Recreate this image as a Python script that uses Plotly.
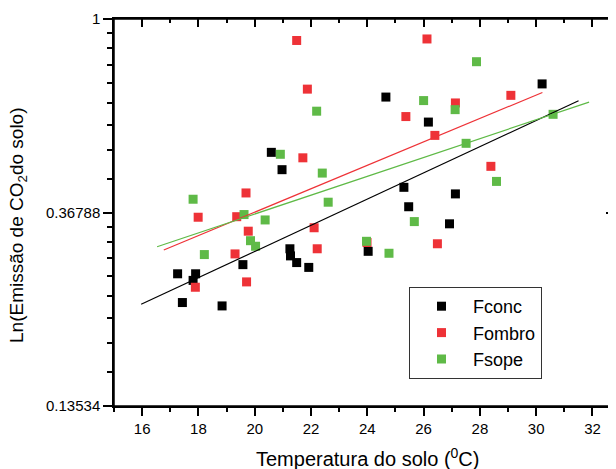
import numpy as np
import plotly.graph_objects as go

# ---- data ----
series_names = ["Fconc", "Fombro", "Fsope"]

fconc_x = [20.59, 20.97, 21.25, 21.27, 21.49, 21.92, 19.58, 17.26, 17.90, 17.81,
           17.43, 18.84, 30.21, 24.66, 26.17, 25.30, 27.13, 25.47, 26.92, 24.03]
fconc_y = [0.502, 0.459, 0.305, 0.294, 0.284, 0.277, 0.281, 0.268, 0.268, 0.259,
           0.231, 0.227, 0.715, 0.668, 0.587, 0.419, 0.405, 0.379, 0.347, 0.301]

fombro_x = [21.49, 21.87, 21.71, 19.69, 17.99, 19.36, 19.77, 22.11, 22.22, 19.30,
            17.89, 19.71, 26.12, 29.10, 27.13, 25.37, 26.40, 28.39, 23.99, 26.49]
fombro_y = [0.895, 0.696, 0.488, 0.407, 0.359, 0.360, 0.334, 0.340, 0.305, 0.297,
            0.250, 0.257, 0.902, 0.674, 0.648, 0.604, 0.548, 0.467, 0.315, 0.313]

fsope_x = [22.20, 20.91, 22.40, 17.81, 22.61, 19.62, 20.37, 19.85, 20.03, 18.21,
           27.88, 26.00, 27.12, 30.60, 27.51, 28.59, 25.67, 23.97, 24.77]
fsope_y = [0.621, 0.497, 0.451, 0.394, 0.388, 0.364, 0.354, 0.318, 0.309, 0.296,
           0.802, 0.656, 0.626, 0.611, 0.526, 0.432, 0.351, 0.317, 0.298]

x_tick_vals = [16, 18, 20, 22, 24, 26, 28, 30, 32]
x_minor_vals = [15, 17, 19, 21, 23, 25, 27, 29, 31, 33]
y_tick_vals = [0.13534, 0.36788, 1.0]
y_tick_text = ["0.13534", "0.36788", "1"]

colors = ["#000000", "#EE3237", "#5FBA47"]
FONT = "Liberation Sans, Arial, sans-serif"

# minor y ticks: 8 linearly spaced values between each pair of major ticks
y_minor_vals = []
for a, b in zip(y_tick_vals[:-1], y_tick_vals[1:]):
    y_minor_vals += [a + k * (b - a) / 9 for k in range(1, 9)]


def fit_line(x, y):
    x = np.asarray(x, float)
    ly = np.log(np.asarray(y, float))
    slope, icpt = np.polyfit(x, ly, 1)
    span = x.max() - x.min()
    xs = np.array([x.min() - 0.1 * span, x.max() + 0.1 * span])
    return xs, np.exp(icpt + slope * xs)


data = [(fconc_x, fconc_y), (fombro_x, fombro_y), (fsope_x, fsope_y)]

fig = go.Figure()
for (xv, yv), name, col in zip(data, series_names, colors):
    fig.add_trace(go.Scatter(
        x=xv, y=yv, mode="markers", name=name,
        marker=dict(symbol="square", size=9, color=col, line=dict(width=0)),
    ))
for (xv, yv), name, col in zip(data, series_names, colors):
    fx, fy = fit_line(xv, yv)
    fig.add_trace(go.Scatter(
        x=fx, y=fy, mode="lines", showlegend=False, hoverinfo="skip",
        line=dict(color=col, width=1.2),
    ))
# invisible trace on the mirrored top/right axes so they get drawn
fig.add_trace(go.Scatter(x=[15], y=[1.0], xaxis="x2", yaxis="y2", mode="markers",
                         marker=dict(opacity=0), showlegend=False, hoverinfo="skip"))

xr = [15, 32.8]
yr = [-2 / np.log(10), 0]

common_x = dict(range=xr, showgrid=False, zeroline=False, showline=True,
                linecolor="black", linewidth=1.5, tickmode="array",
                tickvals=x_tick_vals, tickcolor="black", tickwidth=1.5,
                automargin=False)
common_y = dict(type="log", range=yr, showgrid=False, zeroline=False, showline=True,
                linecolor="black", linewidth=1.5, tickmode="array",
                tickvals=y_tick_vals, ticktext=y_tick_text,
                tickcolor="black", tickwidth=1.5, automargin=False)

# the page body has an 8px default margin, so the figure is 8px smaller
fig.update_layout(
    width=608, height=461,
    margin=dict(l=106, r=1, t=11, b=63, autoexpand=False),
    paper_bgcolor="white", plot_bgcolor="white",
    font=dict(family=FONT, color="black", size=15),
    xaxis=dict(**common_x, ticks="outside", ticklen=8,
               tickfont=dict(size=15, family=FONT, color="black"),
               minor=dict(tickmode="array", tickvals=x_minor_vals, ticks="outside",
                          ticklen=4, tickcolor="black", tickwidth=1.5)),
    xaxis2=dict(**common_x, overlaying="x", side="top", anchor="y2",
                ticks="inside", ticklen=8, showticklabels=False,
                minor=dict(tickmode="array", tickvals=x_minor_vals, ticks="inside",
                           ticklen=4, tickcolor="black", tickwidth=1.5)),
    yaxis=dict(**common_y, ticks="outside", ticklen=9,
               tickfont=dict(size=15, family=FONT, color="black"),
               minor=dict(tickmode="array", tickvals=y_minor_vals, ticks="outside",
                          ticklen=5, tickcolor="black", tickwidth=1.5)),
    yaxis2=dict(**common_y, overlaying="y", side="right", anchor="x2",
                ticks="inside", ticklen=9, showticklabels=False,
                minor=dict(tickmode="array", tickvals=y_minor_vals, ticks="inside",
                           ticklen=5, tickcolor="black", tickwidth=1.5)),
    legend=dict(x=0.5888, y=0.3075, xanchor="left", yanchor="top",
                bgcolor="white", bordercolor="#333333", borderwidth=1,
                font=dict(size=18, family=FONT, color="black"),
                itemwidth=53, tracegroupgap=0),
    showlegend=True,
    shapes=[dict(type="rect", xref="paper", yref="paper", x0=0, y0=0, x1=1, y1=1,
                 line=dict(color="black", width=1.5), layer="above")],
    annotations=[
        dict(text="Temperatura do solo (<sup>0</sup>C)", xref="paper", yref="paper",
             x=0.505, y=-0.134, xanchor="center", yanchor="middle", showarrow=False,
             font=dict(size=20, family=FONT, color="black")),
        dict(text="Ln(Emissão de CO<sub>2</sub>do solo)", xref="paper", yref="paper",
             x=-0.1916, y=0.4677, xanchor="center", yanchor="middle", showarrow=False,
             textangle=-90, font=dict(size=19, family=FONT, color="black")),
    ],
)

fig.write_html("out.html")
